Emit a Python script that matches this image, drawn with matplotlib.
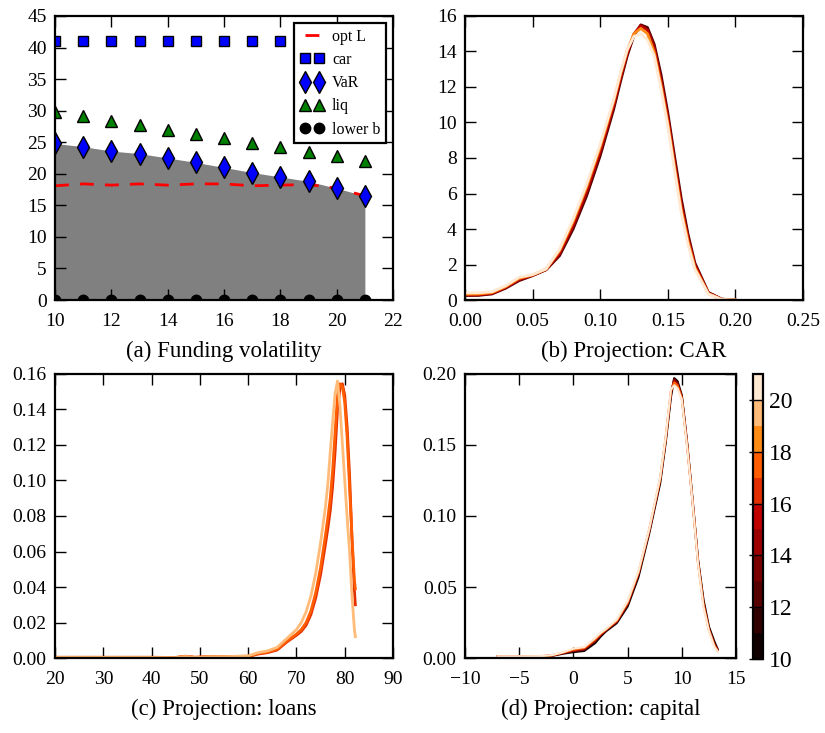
import numpy as np
import matplotlib
matplotlib.use("Agg")
import matplotlib.pyplot as plt
from matplotlib.colors import ListedColormap, Normalize

plt.rcParams['font.family'] = ['Liberation Serif', 'DejaVu Serif']
plt.rcParams['font.size'] = 14

# (a) funding volatility
vol = [10, 11, 12, 13, 14, 15, 16, 17, 18, 19, 20, 21]
opt_L = [18.1, 18.4, 18.2, 18.4, 18.2, 18.4, 18.4, 18.1, 18.2, 18.3, 17.7, 16.5]
car = [41, 41, 41, 41, 41, 41, 41, 41, 41, 41, 41, 41]
var = [24.8, 24.3, 23.6, 23.2, 22.5, 21.8, 21.0, 20.2, 19.5, 18.8, 17.7, 16.5]
liq = [29.8, 29.1, 28.4, 27.7, 27.0, 26.3, 25.7, 24.9, 24.2, 23.5, 22.8, 22.1]
lower_b = [0, 0, 0, 0, 0, 0, 0, 0, 0, 0, 0, 0]

# (b) projection: CAR, density curves per volatility level
car_x = [0, 0.01, 0.02, 0.03, 0.04, 0.05, 0.06, 0.07, 0.08, 0.09, 0.10, 0.11,
         0.115, 0.12, 0.125, 0.13, 0.135, 0.14, 0.145, 0.15, 0.155, 0.16, 0.165,
         0.17, 0.18, 0.19, 0.20]
car_dens = {
    12: [0.25, 0.26, 0.34, 0.66, 1.09, 1.37, 1.70, 2.50, 4.00, 5.87, 8.12, 10.75,
         12.3, 13.75, 14.9, 15.5, 15.35, 14.4, 12.7, 10.56, 8.1, 5.70, 3.7,
         2.10, 0.43, 0.05, 0.0],
    15: [0.28, 0.29, 0.37, 0.70, 1.15, 1.39, 1.72, 2.62, 4.20, 6.10, 8.35, 10.95,
         12.5, 13.9, 15.0, 15.45, 15.2, 14.2, 12.4, 10.3, 7.8, 5.4, 3.5,
         1.98, 0.40, 0.04, 0.0],
    18: [0.33, 0.34, 0.42, 0.75, 1.22, 1.41, 1.74, 2.78, 4.42, 6.38, 8.62, 11.18,
         12.7, 14.05, 15.0, 15.3, 15.0, 13.95, 12.1, 10.0, 7.5, 5.1, 3.3,
         1.84, 0.36, 0.03, 0.0],
    20: [0.40, 0.41, 0.47, 0.80, 1.28, 1.43, 1.75, 2.87, 4.56, 6.53, 8.78, 11.3,
         12.8, 14.1, 14.85, 15.0, 14.65, 13.75, 11.9, 9.8, 7.3, 4.9, 3.1,
         1.74, 0.34, 0.03, 0.0],
}

# (c) projection: loans
loan_x = [20, 30, 40, 45, 47, 49, 52, 56, 60, 62, 64, 66, 68, 70, 71, 72, 73, 74,
          75, 76, 76.5, 77, 77.5, 78, 78.5, 79, 79.5, 80, 80.5, 81, 81.5, 82, 82.2]
loan_dens = {
    16: [0.0004, 0.0004, 0.0004, 0.0003, 0.0010, 0.0004, 0.0008, 0.0009, 0.0008,
         0.0022, 0.0030, 0.0045, 0.0090, 0.0128, 0.0150, 0.0185, 0.0245, 0.0340,
         0.0470, 0.0640, 0.0730, 0.0830, 0.0970, 0.1160, 0.1400, 0.1520, 0.1545,
         0.1480, 0.1300, 0.1030, 0.0670, 0.0380, 0.0300],
    17: [0.0004, 0.0004, 0.0004, 0.0003, 0.0010, 0.0004, 0.0008, 0.0009, 0.0010,
         0.0025, 0.0034, 0.0050, 0.0095, 0.0135, 0.0160, 0.0200, 0.0265, 0.0370,
         0.0510, 0.0690, 0.0790, 0.0900, 0.1060, 0.1270, 0.1480, 0.1545, 0.1530,
         0.1440, 0.1240, 0.0960, 0.0680, 0.0440, 0.0390],
    19: [0.0003, 0.0003, 0.0003, 0.0002, 0.0008, 0.0003, 0.0007, 0.0008, 0.0012,
         0.0030, 0.0040, 0.0060, 0.0110, 0.0160, 0.0200, 0.0260, 0.0350, 0.0480,
         0.0650, 0.0850, 0.0980, 0.1160, 0.1330, 0.1490, 0.1560, 0.1420, 0.1210,
         0.1000, 0.0790, 0.0600, 0.0350, 0.0160, 0.0120],
}

# (d) projection: capital
cap_x = [-7, -5, -3, -2, -1, 0, 1, 2, 2.5, 3, 4, 5, 6, 7, 8, 8.5, 9, 9.3, 9.6,
         10, 10.5, 11, 11.5, 12, 12.5, 13, 13.3]
cap_dens = {
    10: [0.0012, 0.0012, 0.0012, 0.0015, 0.0030, 0.0042, 0.0050, 0.0105, 0.0150,
         0.0188, 0.0246, 0.0363, 0.0570, 0.0880, 0.1230, 0.1510, 0.1840, 0.1970,
         0.1950, 0.1850, 0.1510, 0.1110, 0.0690, 0.0410, 0.0220, 0.0117, 0.0063],
    14: [0.0012, 0.0012, 0.0012, 0.0017, 0.0034, 0.0050, 0.0060, 0.0120, 0.0160,
         0.0195, 0.0255, 0.0378, 0.0590, 0.0895, 0.1250, 0.1530, 0.1865, 0.1960,
         0.1935, 0.1840, 0.1500, 0.1100, 0.0680, 0.0390, 0.0205, 0.0100, 0.0056],
    17: [0.0012, 0.0012, 0.0013, 0.0018, 0.0037, 0.0058, 0.0070, 0.0130, 0.0170,
         0.0200, 0.0262, 0.0390, 0.0600, 0.0905, 0.1260, 0.1540, 0.1880, 0.1940,
         0.1920, 0.1830, 0.1490, 0.1095, 0.0670, 0.0375, 0.0198, 0.0090, 0.0050],
    20: [0.0012, 0.0012, 0.0013, 0.0020, 0.0040, 0.0066, 0.0077, 0.0140, 0.0176,
         0.0204, 0.0270, 0.0400, 0.0610, 0.0910, 0.1270, 0.1550, 0.1890, 0.1920,
         0.1900, 0.1820, 0.1480, 0.1090, 0.0660, 0.0360, 0.0190, 0.0080, 0.0047],
}

# discrete heat colormap, 11 bands from 10 to 21
heat = plt.get_cmap('gist_heat')
cmap = ListedColormap([heat((i + 0.5) / 11) for i in range(11)])
norm = Normalize(10, 21)


def style(ax):
    ax.tick_params(direction='in', top=True, right=True, length=8, width=1,
                   labelsize=14)
    ax.tick_params(axis='x', pad=9)
    ax.tick_params(axis='y', pad=6)
    for s in ax.spines.values():
        s.set_linewidth(1.6)


fig = plt.figure(figsize=(8.25, 7.33), dpi=100)
ax_a = fig.add_axes([0.0667, 0.5907, 0.4097, 0.3875])
ax_b = fig.add_axes([0.5636, 0.5907, 0.4097, 0.3875])
ax_c = fig.add_axes([0.0667, 0.1023, 0.4097, 0.3875])
ax_d = fig.add_axes([0.5636, 0.1023, 0.3285, 0.3875])
cax = fig.add_axes([0.9127, 0.1010, 0.0121, 0.3888])

# (a)
ax_a.fill_between(vol, lower_b, var, color='#808080', lw=0)
ax_a.plot(vol, opt_L, '--', color='red', lw=2, dashes=(5, 4), label='opt L')
ax_a.plot(vol, car, 's', color='blue', mec='black', ms=7.5, label='car')
ax_a.plot(vol, var, 'd', color='blue', mec='black', ms=11, label='VaR')
ax_a.plot(vol, liq, '^', color='green', mec='black', ms=8, label='liq')
ax_a.plot(vol, lower_b, 'o', color='black', ms=7.5, label='lower b')
ax_a.set_xlim(10, 22)
ax_a.set_ylim(0, 45)
ax_a.set_xticks(range(10, 23, 2))
ax_a.set_yticks(range(0, 46, 5))
leg = ax_a.legend(loc='upper right', numpoints=2, fontsize=11.5, fancybox=False,
                  handlelength=1.5, handletextpad=0.5, labelspacing=0.45,
                  borderaxespad=0.45, borderpad=0.35)
leg.get_frame().set_edgecolor('black')
leg.get_frame().set_linewidth(1.6)
leg.get_frame().set_alpha(1)
style(ax_a)
ax_a.set_xlabel('(a) Funding volatility', fontsize=16.5, labelpad=8)

# (b)
for v, ys in car_dens.items():
    ax_b.plot(car_x, ys, color=cmap(norm(v)), lw=2)
ax_b.set_xlim(0, 0.25)
ax_b.set_ylim(0, 16)
ax_b.set_xticks(np.arange(0, 0.26, 0.05))
ax_b.set_xticklabels(['0.00', '0.05', '0.10', '0.15', '0.20', '0.25'])
ax_b.set_yticks(range(0, 17, 2))
style(ax_b)
ax_b.set_xlabel('(b) Projection: CAR', fontsize=16.5, labelpad=8)

# (c)
for v, ys in loan_dens.items():
    ax_c.plot(loan_x, ys, color=cmap(norm(v)), lw=2)
ax_c.set_xlim(20, 90)
ax_c.set_ylim(0, 0.16)
ax_c.set_xticks(range(20, 91, 10))
ax_c.set_yticks(np.arange(0, 0.161, 0.02))
ax_c.set_yticklabels(['%.2f' % t for t in np.arange(0, 0.161, 0.02)])
style(ax_c)
ax_c.set_xlabel('(c) Projection: loans', fontsize=16.5, labelpad=8)

# (d)
for v, ys in cap_dens.items():
    ax_d.plot(cap_x, ys, color=cmap(norm(v)), lw=1.6)
ax_d.set_xlim(-10, 15)
ax_d.set_ylim(0, 0.20)
ax_d.set_xticks(range(-10, 16, 5))
ax_d.set_yticks(np.arange(0, 0.201, 0.05))
ax_d.set_yticklabels(['%.2f' % t for t in np.arange(0, 0.201, 0.05)])
style(ax_d)
ax_d.set_xlabel('(d) Projection: capital', fontsize=16.5, labelpad=8)

sm = plt.cm.ScalarMappable(cmap=cmap, norm=norm)
cb = fig.colorbar(sm, cax=cax, ticks=range(10, 21, 2))
cb.ax.tick_params(direction='in', length=10, width=1, labelsize=17, pad=4)
cb.outline.set_linewidth(1.6)

fig.savefig('out.png', dpi=100)
